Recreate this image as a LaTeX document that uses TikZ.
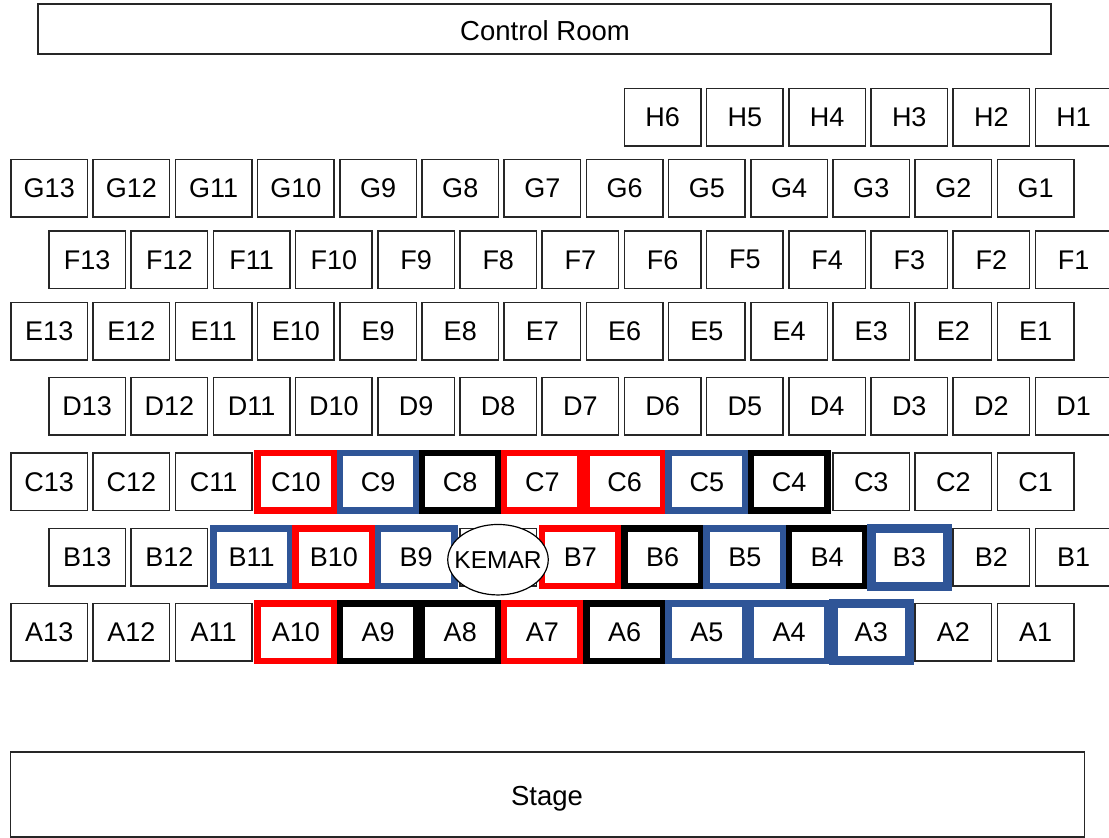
\documentclass[tikz,border=0pt]{standalone}
\usepackage{fontspec}
\setmainfont{Liberation Sans}
\usetikzlibrary{shapes.geometric}
\definecolor{seatblue}{HTML}{2F5597}
\definecolor{seatred}{HTML}{FF0000}
\begin{document}
\begin{tikzpicture}[x=1pt,y=-1pt,
  seat/.style={draw=black!85, line width=1.5pt, fill=white, minimum width=76.5pt,
    minimum height=57.5pt, inner sep=0pt, outer sep=0pt, anchor=north west,
    font=\fontsize{27}{32}\selectfont},
  redseat/.style={seat, draw=seatred, line width=6.5pt},
  blueseat/.style={seat, draw=seatblue, line width=6.5pt},
  bigblueseat/.style={seat, draw=seatblue, line width=9pt},
  blackseat/.style={seat, draw=black, line width=6.5pt},
  area/.style={draw=black!85, line width=1.5pt, inner sep=0pt, outer sep=0pt,
    anchor=north west},
  arealabel/.style={inner sep=0pt, font=\fontsize{27.5}{32}\selectfont}]
\useasboundingbox (0,0) rectangle (1109,838);
\fill[white] (0,0) rectangle (1109,838);

% Control room and stage
\node[area, minimum width=1013pt, minimum height=50pt] (control) at (38,4) {};
\node[arealabel] (controllabel) at (545,30.5) {Control Room};
\node[area, minimum width=1074pt, minimum height=85pt] (stage) at (10.5,752) {};
\node[arealabel] (stagelabel) at (547,799) {Stage};

% Row H
\foreach \n in {6,5,4,3,2,1}
  \node[seat] (H\n) at ({49+82.2*(13-\n)},88.5) {H\n};

% Rows G, E (left aligned)
\foreach \r/\y in {G/159.5, E/302.5}
  \foreach \n in {13,...,1}
    \node[seat] (\r\n) at ({11+82.2*(13-\n)},\y) {\r\n};

% Rows F, D (offset)
\foreach \r/\y in {F/231, D/377.5}
  \foreach \n in {13,...,1}
    \node[seat] (\r\n) at ({49+82.2*(13-\n)},\y) {\r\n};

% Row C
\foreach \n/\s in {13/seat,12/seat,11/seat,10/redseat,9/blueseat,8/blackseat,7/redseat,
                   6/redseat,5/blueseat,4/blackseat,3/seat,2/seat,1/seat}
  \node[\s] (C\n) at ({11+82.2*(13-\n)},453) {C\n};

% Row B
\foreach \n/\s in {13/seat,12/seat,11/blueseat,10/redseat,9/blueseat,7/redseat,
                   6/blackseat,5/blueseat,4/blackseat,3/bigblueseat,2/seat,1/seat}
  \node[\s] (B\n) at ({49+82.2*(13-\n)},528.5) {B\n};
\node[seat] (B8) at ({49+82.2*5},528.5) {};

% Row A
\foreach \n/\s in {13/seat,12/seat,11/seat,10/redseat,9/blackseat,8/blackseat,7/redseat,
                   6/blackseat,5/blueseat,4/blueseat,3/bigblueseat,2/seat,1/seat}
  \node[\s] (A\n) at ({11+82.2*(13-\n)},603.3) {A\n};

% KEMAR
\node[draw=black, ellipse, fill=white, line width=1.2pt, minimum width=100.5pt,
  minimum height=70.5pt, inner sep=0pt, font=\fontsize{24.5}{28}\selectfont]
  (KEMAR) at (498,559.7) {\makebox[0pt]{KEMAR}};
\end{tikzpicture}
\end{document}
